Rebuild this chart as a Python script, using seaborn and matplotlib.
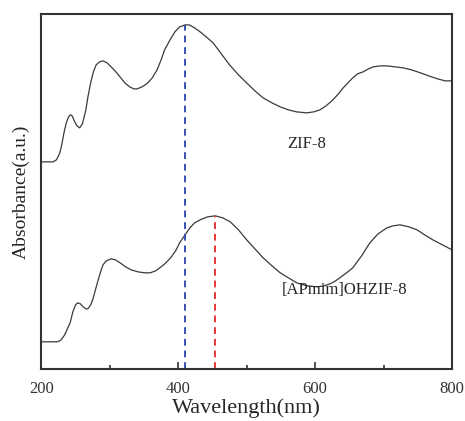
import numpy as np
import pandas as pd
import seaborn as sns
import matplotlib.pyplot as plt

# values (arbitrary absorbance units, offset spectra)
zif8_nm = [200, 210, 217, 222, 227, 230, 233, 236, 239, 242, 245, 248, 252, 256,
           260, 265, 268, 272, 276, 280, 285, 290, 296, 302, 309, 316, 322, 329,
           335, 340, 347, 354, 362, 369, 375, 380, 388, 395, 402, 410, 416, 424,
           432, 441, 451, 463, 475, 488, 500, 512, 524, 537, 549, 561, 573, 588,
           598, 607, 616, 626, 634, 641, 648, 655, 662, 670, 678, 685, 695, 705,
           717, 729, 741, 754, 766, 779, 790, 800]
zif8_abs = [2.07, 2.07, 2.07, 2.09, 2.16, 2.25, 2.36, 2.45, 2.51, 2.54, 2.53, 2.48,
            2.43, 2.41, 2.45, 2.59, 2.72, 2.86, 2.97, 3.04, 3.07, 3.08, 3.06, 3.02,
            2.97, 2.91, 2.86, 2.82, 2.80, 2.80, 2.82, 2.85, 2.91, 2.99, 3.09, 3.19,
            3.29, 3.37, 3.42, 3.44, 3.44, 3.41, 3.37, 3.32, 3.26, 3.15, 3.04, 2.94,
            2.86, 2.78, 2.71, 2.66, 2.62, 2.59, 2.57, 2.56, 2.57, 2.59, 2.63, 2.69,
            2.75, 2.81, 2.86, 2.91, 2.95, 2.97, 3.00, 3.02, 3.03, 3.03, 3.02, 3.01,
            2.99, 2.96, 2.93, 2.90, 2.88, 2.88]

ap_nm = [200, 215, 224, 229, 234, 238, 242, 246, 250, 253, 257, 261, 265, 268,
         272, 275, 279, 283, 287, 290, 295, 302, 308, 315, 323, 331, 341, 351,
         359, 367, 375, 382, 390, 397, 402, 406, 411, 417, 424, 432, 443, 454,
         465, 476, 488, 500, 512, 524, 537, 549, 561, 573, 588, 603, 613, 622,
         630, 636, 646, 655, 668, 680, 692, 705, 714, 724, 737, 749, 760, 772,
         786, 800]
ap_abs = [0.27, 0.27, 0.27, 0.29, 0.34, 0.40, 0.46, 0.57, 0.64, 0.66, 0.65, 0.62,
          0.60, 0.60, 0.64, 0.69, 0.79, 0.89, 0.98, 1.04, 1.08, 1.10, 1.09, 1.06,
          1.02, 0.99, 0.97, 0.96, 0.96, 0.98, 1.02, 1.06, 1.12, 1.19, 1.26, 1.30,
          1.35, 1.41, 1.46, 1.49, 1.52, 1.53, 1.51, 1.47, 1.39, 1.29, 1.20, 1.11,
          1.03, 0.96, 0.91, 0.86, 0.83, 0.82, 0.83, 0.85, 0.88, 0.91, 0.96, 1.01,
          1.13, 1.26, 1.35, 1.41, 1.43, 1.44, 1.42, 1.39, 1.34, 1.29, 1.24, 1.19]

peak_nm = [410, 454]
peak_top = [3.44, 1.53]
peak_colors = ["#3a4fb0", "#e8373a"]
labels = ["ZIF-8", "[APmim]OHZIF-8"]

sns.set_style("ticks")
plt.rcParams['font.family'] = ['Liberation Serif', 'DejaVu Serif']

df = pd.concat([
    pd.DataFrame({'nm': zif8_nm, 'abs': zif8_abs, 'sample': labels[0]}),
    pd.DataFrame({'nm': ap_nm, 'abs': ap_abs, 'sample': labels[1]}),
])

fig = plt.figure(figsize=(4.65, 4.21), dpi=100)
ax = fig.add_axes([0.089, 0.124, 0.883, 0.843])
sns.lineplot(data=df, x='nm', y='abs', units='sample', estimator=None,
             color='#3a3a3a', linewidth=0.9, ax=ax, legend=False)

for x, top, c in zip(peak_nm, peak_top, peak_colors):
    ax.plot([x, x], [0, top], color=c, linestyle=(0, (3.5, 2.5)), linewidth=1.4)

ax.text(559, 2.25, labels[0], fontsize=12, va='center', ha='left')
ax.text(551, 0.79, labels[1], fontsize=12, va='center', ha='left')

ax.set_xlim(200, 800)
ax.set_ylim(0, 3.55)
ax.set_xticks([200, 400, 600, 800])
ax.set_xticks([300, 500, 700], minor=True)
ax.set_yticks([])
ax.tick_params(axis='x', which='major', direction='in', length=5, width=1.2,
               labelsize=12, pad=9, colors='#333333', labelcolor='#333333')
ax.tick_params(axis='x', which='minor', direction='in', length=3, width=1.2,
               colors='#333333')
for s in ax.spines.values():
    s.set_linewidth(1.5)
    s.set_color('#333333')
    s.set_visible(True)

ax.set_xlabel('Wavelength(nm)', fontsize=16, labelpad=1)
ax.set_ylabel('Absorbance(a.u.)', fontsize=14, labelpad=8)

plt.savefig('out.png', dpi=100)
